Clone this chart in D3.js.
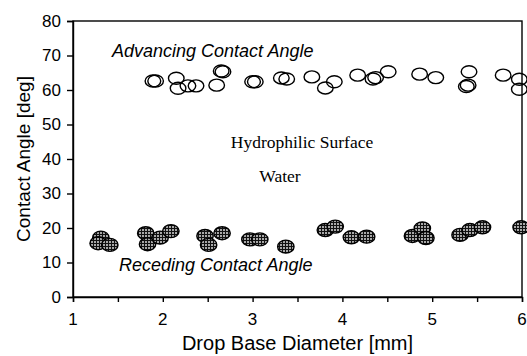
<!DOCTYPE html>
<html>
<head>
<meta charset="utf-8">
<script src="https://cdn.jsdelivr.net/npm/d3@7"></script>
<style>
  body { margin: 0; background: #fff; }
  text { font-family: "Liberation Sans", Arial, sans-serif; fill: #000; }
</style>
</head>
<body>
<script>
// advancing angle points (open ellipses)
const advDiam = [1.89, 1.92, 2.15, 2.17, 2.28, 2.37, 2.60, 2.65, 2.67, 3.00, 3.03, 3.32, 3.38, 3.66,
  3.81, 3.91, 4.17, 4.34, 4.37, 4.51, 4.86, 5.04, 5.41, 5.38, 5.40, 5.79, 5.97, 5.97];
const advAngle = [62.6, 62.6, 63.4, 60.5, 61.2, 61.2, 61.4, 65.5, 65.3, 62.4, 62.4, 63.5, 63.2, 63.8,
  60.6, 62.4, 64.3, 63.2, 63.6, 65.3, 64.6, 63.6, 65.3, 61.0, 61.4, 64.3, 63.1, 60.2];

// receding angle points (hatched ellipses)
const recDiam = [1.31, 1.28, 1.41, 1.81, 1.83, 1.97, 2.09, 2.47, 2.51, 2.66, 2.97, 3.08, 3.37, 3.81,
  3.92, 4.10, 4.27, 4.78, 4.89, 4.93, 5.31, 5.42, 5.56, 5.99];
const recAngle = [17.2, 15.6, 15.1, 18.5, 15.3, 17.2, 19.1, 17.7, 15.1, 18.5, 16.7, 16.7, 14.6, 19.4,
  20.4, 17.3, 17.5, 17.7, 19.9, 17.1, 18.0, 19.4, 20.2, 20.2];

const xTicks = [1, 2, 3, 4, 5, 6];
const yTicks = [0, 10, 20, 30, 40, 50, 60, 70, 80];

const width = 527, height = 356;
const margin = {top: 21, right: 5, bottom: 59, left: 73};

let svg = d3.select("body")
  .append("svg")
  .attr("width", width)
  .attr("height", height);

// crosshatch fill for the receding markers
let pat = svg.append("defs").append("pattern")
  .attr("id", "hatch")
  .attr("patternUnits", "userSpaceOnUse")
  .attr("width", 3)
  .attr("height", 3);
pat.append("rect").attr("width", 3).attr("height", 3).attr("fill", "#111");
pat.append("rect").attr("x", 1).attr("y", 1).attr("width", 2).attr("height", 2).attr("fill", "#a8a8a8");

const x = d3.scaleLinear()
  .domain([1, 6])
  .range([margin.left, width - margin.right]);

const y = d3.scaleLinear()
  .domain([0, 80])
  .range([height - margin.bottom, margin.top]);

// frame
svg.append("rect")
  .attr("x", x(1))
  .attr("y", y(80))
  .attr("width", x(6) - x(1))
  .attr("height", y(0) - y(80))
  .attr("fill", "none")
  .attr("stroke", "#000")
  .attr("stroke-width", 1.4);

// x axis, ticks every 0.5
let xAxis = svg.append("g")
  .attr("transform", `translate(0,${y(0)})`)
  .call(d3.axisBottom(x).tickValues(d3.range(1, 6.01, 0.5)).tickSize(5).tickFormat(""));
xAxis.select(".domain").attr("stroke-width", 1.4);
xAxis.selectAll("line").attr("stroke-width", 1.4);

svg.selectAll(".xlab")
  .data(xTicks)
  .enter()
  .append("text")
  .attr("class", "xlab")
  .attr("x", d => x(d))
  .attr("y", 325)
  .style("text-anchor", "middle")
  .style("font-size", "17px")
  .text(d => d);

let yAxis = svg.append("g")
  .attr("transform", `translate(${x(1)},0)`)
  .call(d3.axisLeft(y).tickValues(yTicks).tickSize(6).tickPadding(6));
yAxis.select(".domain").attr("stroke-width", 1.4);
yAxis.selectAll("line").attr("stroke-width", 1.4);
yAxis.selectAll("text")
  .style("font-size", "17px")
  .style("font-family", "'Liberation Sans', Arial, sans-serif");

// axis titles
svg.append("text")
  .attr("x", (x(1) + x(6)) / 2)
  .attr("y", 350)
  .style("text-anchor", "middle")
  .style("font-size", "20px")
  .text("Drop Base Diameter [mm]");

svg.append("text")
  .attr("transform", `translate(30,${(y(0) + y(80)) / 2}) rotate(-90)`)
  .style("text-anchor", "middle")
  .style("font-size", "19px")
  .text("Contact Angle [deg]");

// markers
svg.selectAll(".adv")
  .data(advDiam.map((d, i) => [d, advAngle[i]]))
  .enter()
  .append("ellipse")
  .attr("class", "adv")
  .attr("cx", d => x(d[0]))
  .attr("cy", d => y(d[1]))
  .attr("rx", 7.8)
  .attr("ry", 6)
  .attr("fill", "none")
  .attr("stroke", "#000")
  .attr("stroke-width", 1.4);

svg.selectAll(".rec")
  .data(recDiam.map((d, i) => [d, recAngle[i]]))
  .enter()
  .append("ellipse")
  .attr("class", "rec")
  .attr("cx", d => x(d[0]))
  .attr("cy", d => y(d[1]))
  .attr("rx", 8.2)
  .attr("ry", 6.5)
  .attr("fill", "url(#hatch)")
  .attr("stroke", "#000")
  .attr("stroke-width", 1.4);

// annotations
svg.append("text")
  .attr("x", 112)
  .attr("y", 57)
  .style("font-size", "18px")
  .style("font-style", "italic")
  .text("Advancing Contact Angle");

svg.append("text")
  .attr("x", 119)
  .attr("y", 271)
  .style("font-size", "18px")
  .style("font-style", "italic")
  .text("Receding Contact Angle");

svg.append("text")
  .attr("x", 302)
  .attr("y", 148)
  .style("text-anchor", "middle")
  .style("font-family", "'Liberation Serif', 'Times New Roman', serif")
  .style("font-size", "17.5px")
  .text("Hydrophilic Surface");

svg.append("text")
  .attr("x", 280)
  .attr("y", 182)
  .style("text-anchor", "middle")
  .style("font-family", "'Liberation Serif', 'Times New Roman', serif")
  .style("font-size", "17.5px")
  .text("Water");
</script>
</body>
</html>
